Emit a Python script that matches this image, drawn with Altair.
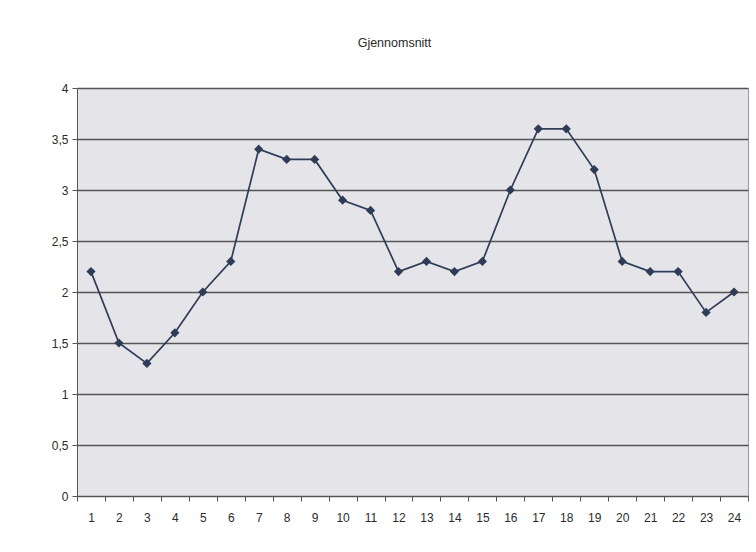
import altair as alt
import pandas as pd

hours = list(range(1, 25))
values = [2.2, 1.5, 1.3, 1.6, 2.0, 2.3, 3.4, 3.3, 3.3, 2.9, 2.8, 2.2,
          2.3, 2.2, 2.3, 3.0, 3.6, 3.6, 3.2, 2.3, 2.2, 2.2, 1.8, 2.0]
y_ticks = [0, 0.5, 1, 1.5, 2, 2.5, 3, 3.5, 4]
title_text = "Gjennomsnitt"

df = pd.DataFrame({"x": hours, "y": values})

LINE = "#2f3c58"
FONT = "Liberation Sans"

x_enc = alt.X(
    "x:O",
    scale=alt.Scale(type="band", paddingInner=0, paddingOuter=0),
    axis=alt.Axis(
        title=None, labelAngle=0, tickBand="extent", grid=False,
        domainColor="#555555", tickColor="#555555", tickSize=5,
        labelPadding=11, labelFontSize=12, labelColor="#2a2a2a", labelFont=FONT,
    ),
)
y_enc = alt.Y(
    "y:Q",
    scale=alt.Scale(domain=[0, 4], nice=False),
    axis=alt.Axis(
        title=None, values=y_ticks, grid=True, gridColor="#555555", gridWidth=1.4,
        domainColor="#555555", tickColor="#555555", tickSize=5, labelPadding=4,
        labelFontSize=12, labelColor="#2a2a2a", labelFont=FONT,
        labelExpr="replace(format(datum.value, '~g'), '.', ',')",
    ),
)

base = alt.Chart(df).encode(x=x_enc, y=y_enc)
line = base.mark_line(color=LINE, strokeWidth=1.7)
pts = base.mark_point(shape="diamond", filled=True, color=LINE, size=85, opacity=1)

chart = (
    alt.layer(line, pts)
    .properties(
        width=671, height=408,
        title=alt.TitleParams(title_text, fontSize=12.5, font=FONT, color="#2a2a2a",
                              fontWeight="normal", offset=33, dx=-18),
        autosize=alt.AutoSizeParams(type="none"),
        padding={"left": 77, "top": 88, "right": 8, "bottom": 56},
        background="white",
    )
    .configure_view(fill="#e5e5e9", stroke="#9a9a9a", strokeWidth=1)
)

chart.save("out.html", embed_options={"renderer": "svg", "actions": False})
